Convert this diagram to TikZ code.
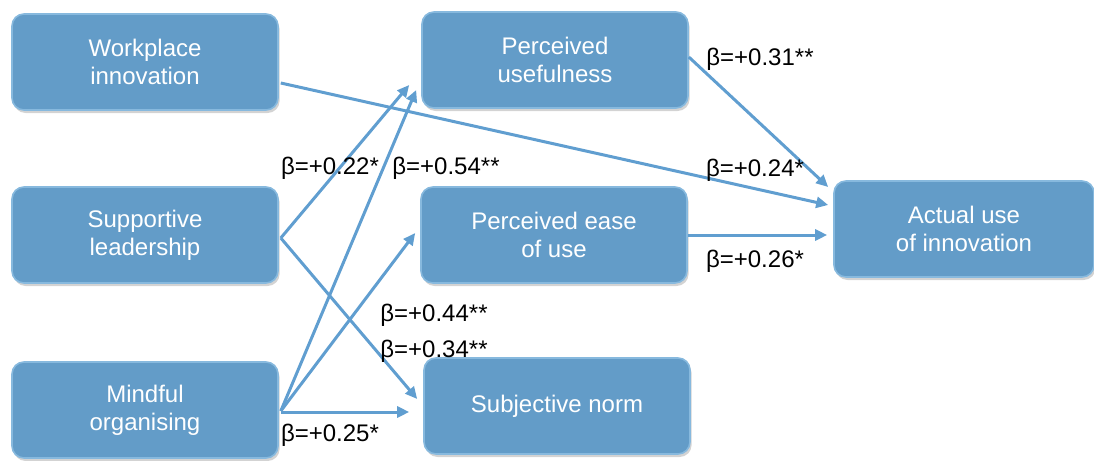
\documentclass[tikz,border=0pt]{standalone}
\usepackage{fontspec}
\setmainfont{Liberation Sans}
\usepackage{tikz}
\usetikzlibrary{positioning,calc,arrows.meta,shadows}

\definecolor{boxfill}{RGB}{99,156,200}
\definecolor{boxline}{RGB}{135,185,222}
\definecolor{pathblue}{RGB}{96,158,208}

\begin{document}
\begin{tikzpicture}[x=0.5pt, y=-0.5pt,
		factor/.style={rounded corners=6pt, draw=boxline, line width=0.8pt, fill=boxfill, text=white, align=center,
			minimum width=133pt, minimum height=48pt, font=\fontsize{12}{14}\selectfont,
			drop shadow={opacity=0.35, shadow xshift=0.8pt, shadow yshift=-1.5pt}},
		path/.style={draw=pathblue, line width=1.5pt, -{Triangle[length=6pt, width=5.5pt]}},
		coef/.style={font=\fontsize{12}{14}\selectfont, inner sep=0pt}]
		\useasboundingbox (0,0) rectangle (1094,461);
		% predictors
		\node[factor] (Work) at (145,62) {Workplace\\innovation};
		\node[factor] (Supp) at (145,235) {Supportive\\leadership};
		\node[factor] (Mind) at (145,410) {Mindful\\organising};
		% mediators
		\node[factor] (Useful) at (555,60) {Perceived\\usefulness};
		\node[factor] (Ease) at (554,235) {Perceived ease\\of use};
		\node[factor] (Norm) at (557,406) {Subjective norm};
		% outcome
		\node[factor, minimum width=130pt] (Actual) at (964,229) {Actual use\\of innovation};

		\draw[path] ($(Work.east)+(2,21)$) -- ($(Actual.west)+(-5,-24)$);
		\draw[path] ($(Useful.east)+(0,-3)$) -- ($(Actual.west)+(-5,-42)$);
		\draw[path] (Ease.east) -- ($(Ease.east -| Actual.west)+(-6,0)$);
		\draw[path] ($(Supp.east)+(2,3)$) -- ($(Useful.west)+(-12,25)$);
		\draw[path] ($(Supp.east)+(2,3)$) -- ($(Norm.west)+(-6,-7)$);
		\draw[path] ($(Mind.east)+(2,1)$) -- ($(Useful.west)+(-5,30)$);
		\draw[path] ($(Mind.east)+(2,1)$) -- ($(Ease.west)+(-5,-2)$);
		\draw[path] ($(Mind.east)+(2,2)$) -- ($(Mind.east -| Norm.west)+(-14,2)$);

		\node[coef] (bUse) at (760,59) {β=+0.31**};
		\node[coef] (bWork) at (755,170) {β=+0.24*};
		\node[coef] (bEase) at (755,261) {β=+0.26*};
		\node[coef] (bSuppU) at (330,168) {β=+0.22*};
		\node[coef] (bMindU) at (446,168) {β=+0.54**};
		\node[coef] (bMindE) at (434,315) {β=+0.44**};
		\node[coef] (bSuppN) at (434,351) {β=+0.34**};
		\node[coef] (bMindN) at (330,435) {β=+0.25*};
	\end{tikzpicture}
\end{document}
